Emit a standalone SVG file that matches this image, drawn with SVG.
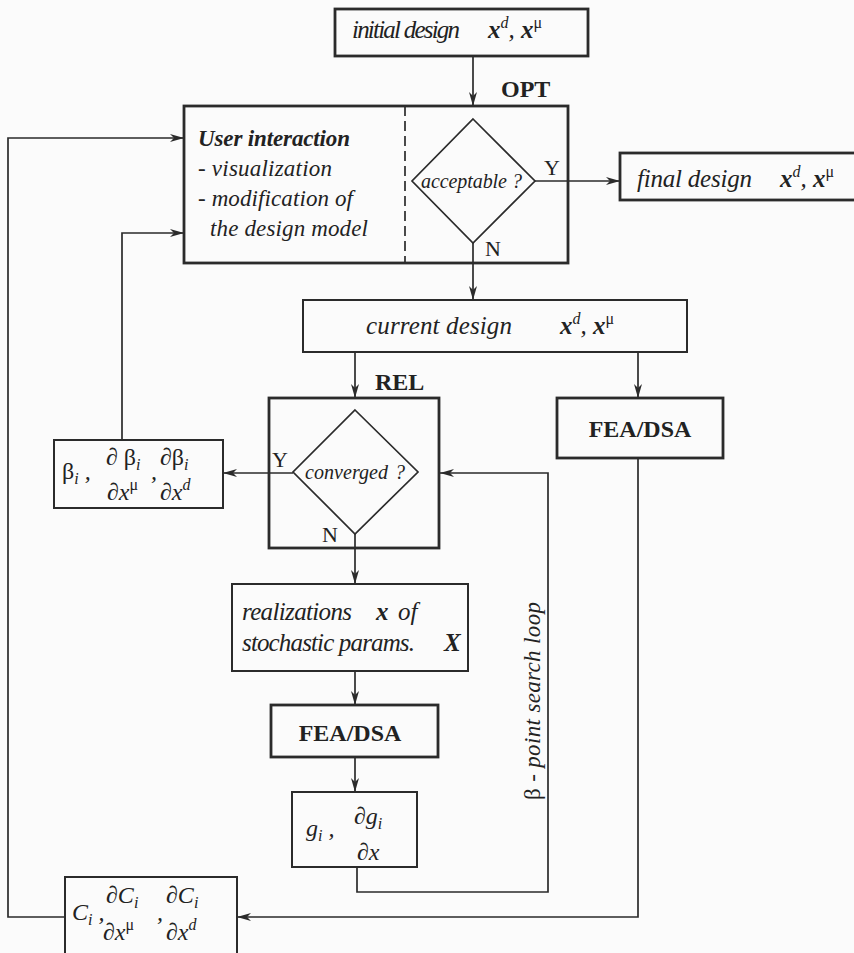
<svg xmlns="http://www.w3.org/2000/svg" width="854" height="953" viewBox="0 0 854 953">
<defs>
<marker id="ah" viewBox="0 0 14 8" refX="14" refY="4" markerWidth="14" markerHeight="8" markerUnits="userSpaceOnUse" orient="auto">
<path d="M0,0 L14,4 L0,8 L4,4 z" fill="#2b2b2b"/>
</marker>
<style>
.bx{fill:none;stroke:#2b2b2b;stroke-width:2.8}
.bt{fill:none;stroke:#2b2b2b;stroke-width:2}
.cn{fill:none;stroke:#2b2b2b;stroke-width:1.7}
.ar{marker-end:url(#ah)}
text{font-family:"Liberation Serif","DejaVu Serif",serif;fill:#222}
.it{font-style:italic;font-size:25px}
.ui{font-style:italic;font-size:23px}
.bi{font-style:italic;font-weight:bold;font-size:23px}
.bd{font-weight:bold;font-size:24px}
.lb{font-size:22px}
.sm{font-style:italic;font-size:20px}
.mt{font-style:italic;font-size:24px}
.sup{font-size:16px}
</style>
</defs>
<rect width="854" height="953" fill="#fbfbfb"/>

<g id="connectors">
<line class="cn ar" x1="473" y1="56" x2="473" y2="106"/>
<line class="cn ar" x1="535" y1="181" x2="620" y2="181"/>
<line class="cn ar" x1="473" y1="243" x2="473" y2="300"/>
<line class="cn ar" x1="355" y1="352" x2="355" y2="398"/>
<line class="cn ar" x1="638" y1="352" x2="638" y2="398"/>
<line class="cn ar" x1="293" y1="473" x2="223" y2="473"/>
<line class="cn ar" x1="355" y1="534" x2="355" y2="584"/>
<line class="cn ar" x1="355" y1="671" x2="355" y2="705"/>
<line class="cn ar" x1="355" y1="757" x2="355" y2="792"/>
<polyline class="cn ar" points="357,867 357,892 548,892 548,473 440,473"/>
<polyline class="cn ar" points="638,458 638,917 237,917"/>
<polyline class="cn ar" points="65,917 8,917 8,138 184,138"/>
<polyline class="cn ar" points="122,440 122,233 184,233"/>
<line class="cn" x1="405" y1="106" x2="405" y2="263" stroke-dasharray="10,5"/>
<text class="bd" x="501" y="97">OPT</text>
<text class="bd" x="375" y="390" font-size="25">REL</text>
<text class="lb" x="544" y="175">Y</text>
<text class="lb" x="485" y="256">N</text>
<text class="lb" x="272" y="467">Y</text>
<text class="lb" x="322" y="542">N</text>
<text class="ui" transform="translate(540,701) rotate(-90)" text-anchor="middle" textLength="198" font-size="22"><tspan font-style="normal">β</tspan> - point search loop</text>
</g>

<g id="initial">
<rect class="bx" x="335" y="9" width="253" height="47"/>
<text class="it" x="352" y="38" textLength="108">initial design</text>
<text class="it" x="488" y="38"><tspan font-weight="bold">x</tspan><tspan class="sup" dy="-10">d</tspan><tspan dy="10">, </tspan><tspan font-weight="bold">x</tspan><tspan class="sup" dy="-10" font-style="normal">μ</tspan></text>
</g>

<g id="opt">
<rect class="bx" x="184" y="106" width="384" height="157"/>
<text class="bi" x="198" y="146" textLength="152">User interaction</text>
<text class="ui" x="198" y="176" textLength="134">- visualization</text>
<text class="ui" x="198" y="206" textLength="155">- modification of</text>
<text class="ui" x="210" y="236" textLength="158">the design model</text>
</g>

<g id="acceptable">
<polygon class="cn" points="473,119 535,181 473,243 412,181"/>
<text class="sm" x="421" y="188" textLength="86">acceptable</text>
<text class="sm" x="512" y="188">?</text>
</g>

<g id="final">
<rect class="bx" x="620" y="153" width="240" height="47"/>
<text class="it" x="637" y="187" textLength="115">final design</text>
<text class="it" x="780" y="187"><tspan font-weight="bold">x</tspan><tspan class="sup" dy="-10">d</tspan><tspan dy="10">, </tspan><tspan font-weight="bold">x</tspan><tspan class="sup" dy="-10" font-style="normal">μ</tspan></text>
</g>

<g id="current">
<rect class="bt" x="303" y="300" width="384" height="52"/>
<text class="it" x="366" y="334" textLength="146">current  design</text>
<text class="it" x="560" y="334"><tspan font-weight="bold">x</tspan><tspan class="sup" dy="-10">d</tspan><tspan dy="10">, </tspan><tspan font-weight="bold">x</tspan><tspan class="sup" dy="-10" font-style="normal">μ</tspan></text>
</g>

<g id="rel">
<rect class="bx" x="269" y="398" width="170" height="150"/>
<polygon class="cn" points="355,410 418,472 355,534 293,472"/>
<text class="sm" x="305" y="479" textLength="83">converged</text>
<text class="sm" x="395" y="479">?</text>
</g>

<g id="fea-right">
<rect class="bx" x="557" y="398" width="166" height="60"/>
<text class="bd" x="640" y="437" text-anchor="middle" font-size="27">FEA/DSA</text>
</g>

<g id="beta">
<rect class="bt" x="54" y="440" width="169" height="68"/>
<text class="mt" x="62" y="479"><tspan font-style="normal">β</tspan><tspan class="sup" dy="5">i</tspan><tspan dy="-5"> ,</tspan></text>
<text class="mt" x="106" y="465">∂ <tspan font-style="normal">β</tspan><tspan class="sup" dy="5">i</tspan></text>
<text class="mt" x="107" y="500">∂x<tspan class="sup" dy="-10" font-style="normal">μ</tspan></text>
<text class="mt" x="151" y="479">,</text>
<text class="mt" x="160" y="465">∂<tspan font-style="normal">β</tspan><tspan class="sup" dy="5">i</tspan></text>
<text class="mt" x="160" y="500">∂x<tspan class="sup" dy="-10">d</tspan></text>
</g>

<g id="realizations">
<rect class="bt" x="232" y="584" width="236" height="87"/>
<text class="it" x="242" y="620" textLength="110">realizations</text>
<text class="it" x="376" y="620" font-weight="bold">x</text>
<text class="it" x="398" y="620">of</text>
<text class="it" x="242" y="651" textLength="173">stochastic params.</text>
<text class="it" x="444" y="651" font-weight="bold">X</text>
</g>

<g id="fea-mid">
<rect class="bx" x="271" y="705" width="167" height="52"/>
<text class="bd" x="350" y="741" text-anchor="middle" font-size="26">FEA/DSA</text>
</g>

<g id="g">
<rect class="bt" x="292" y="792" width="125" height="75"/>
<text class="mt" x="306" y="836">g<tspan class="sup" dy="5">i</tspan><tspan dy="-5"> ,</tspan></text>
<text class="mt" x="354" y="824">∂g<tspan class="sup" dy="5">i</tspan></text>
<text class="mt" x="357" y="860">∂x</text>
</g>

<g id="c">
<rect class="bt" x="65" y="877" width="172" height="90"/>
<text class="mt" x="72" y="920">C<tspan class="sup" dy="5">i</tspan><tspan dy="-5"> ,</tspan></text>
<text class="mt" x="106" y="903">∂C<tspan class="sup" dy="5">i</tspan></text>
<text class="mt" x="103" y="940">∂x<tspan class="sup" dy="-10" font-style="normal">μ</tspan></text>
<text class="mt" x="157" y="920">,</text>
<text class="mt" x="166" y="903">∂C<tspan class="sup" dy="5">i</tspan></text>
<text class="mt" x="166" y="940">∂x<tspan class="sup" dy="-10">d</tspan></text>
</g>
</svg>
